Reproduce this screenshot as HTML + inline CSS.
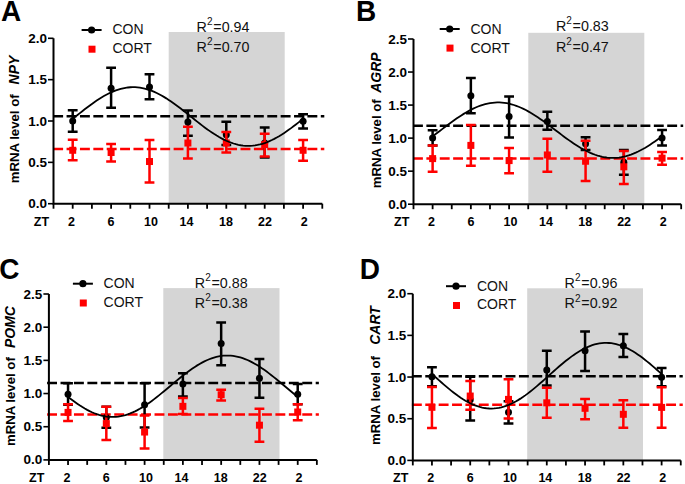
<!DOCTYPE html>
<html><head><meta charset="utf-8"><style>
html,body{margin:0;padding:0;background:#fff;}
svg{display:block;}
text{font-family:"Liberation Sans", sans-serif;fill:#000;}
.tk{font-size:12.5px;font-weight:bold;}
.yl{font-size:13.2px;font-weight:bold;}
.yg{font-size:14px;font-weight:bold;font-style:italic;}
.let{font-size:28px;font-weight:bold;}
.lg{font-size:14px;fill:#111;}
.r2{font-size:14.3px;fill:#111;}
.sup{font-size:10px;}
</style></head><body>
<svg width="685" height="484" viewBox="0 0 685 484">
<rect width="685" height="484" fill="#fff"/>
<rect x="168.7" y="32" width="116" height="171.7" fill="#d5d5d5"/>
<line x1="53.2" y1="116.37" x2="324.3" y2="116.37" stroke="#000" stroke-width="2.5" stroke-dasharray="9.9 3.48"/>
<line x1="53.2" y1="149.12" x2="324.3" y2="149.12" stroke="#ff0000" stroke-width="2.5" stroke-dasharray="9.9 3.48"/>
<path d="M53.5 38.3V203.7H322.3" fill="none" stroke="#000" stroke-width="2"/>
<line x1="48" y1="203.7" x2="53.5" y2="203.7" stroke="#000" stroke-width="1.6"/>
<text transform="translate(46.9 208.2) scale(1.08 1)" class="tk" text-anchor="end">0.0</text>
<line x1="48" y1="162.35" x2="53.5" y2="162.35" stroke="#000" stroke-width="1.6"/>
<text transform="translate(46.9 166.85) scale(1.08 1)" class="tk" text-anchor="end">0.5</text>
<line x1="48" y1="121" x2="53.5" y2="121" stroke="#000" stroke-width="1.6"/>
<text transform="translate(46.9 125.5) scale(1.08 1)" class="tk" text-anchor="end">1.0</text>
<line x1="48" y1="79.65" x2="53.5" y2="79.65" stroke="#000" stroke-width="1.6"/>
<text transform="translate(46.9 84.15) scale(1.08 1)" class="tk" text-anchor="end">1.5</text>
<line x1="48" y1="38.3" x2="53.5" y2="38.3" stroke="#000" stroke-width="1.6"/>
<text transform="translate(46.9 42.8) scale(1.08 1)" class="tk" text-anchor="end">2.0</text>
<line x1="53.5" y1="203.7" x2="53.5" y2="208.7" stroke="#000" stroke-width="1.8"/>
<line x1="72.7" y1="203.7" x2="72.7" y2="208.7" stroke="#000" stroke-width="1.8"/>
<line x1="91.9" y1="203.7" x2="91.9" y2="208.7" stroke="#000" stroke-width="1.8"/>
<line x1="111.1" y1="203.7" x2="111.1" y2="208.7" stroke="#000" stroke-width="1.8"/>
<line x1="130.3" y1="203.7" x2="130.3" y2="208.7" stroke="#000" stroke-width="1.8"/>
<line x1="149.5" y1="203.7" x2="149.5" y2="208.7" stroke="#000" stroke-width="1.8"/>
<line x1="168.7" y1="203.7" x2="168.7" y2="208.7" stroke="#000" stroke-width="1.8"/>
<line x1="187.9" y1="203.7" x2="187.9" y2="208.7" stroke="#000" stroke-width="1.8"/>
<line x1="207.1" y1="203.7" x2="207.1" y2="208.7" stroke="#000" stroke-width="1.8"/>
<line x1="226.3" y1="203.7" x2="226.3" y2="208.7" stroke="#000" stroke-width="1.8"/>
<line x1="245.5" y1="203.7" x2="245.5" y2="208.7" stroke="#000" stroke-width="1.8"/>
<line x1="264.7" y1="203.7" x2="264.7" y2="208.7" stroke="#000" stroke-width="1.8"/>
<line x1="283.9" y1="203.7" x2="283.9" y2="208.7" stroke="#000" stroke-width="1.8"/>
<line x1="303.1" y1="203.7" x2="303.1" y2="208.7" stroke="#000" stroke-width="1.8"/>
<line x1="322.3" y1="203.7" x2="322.3" y2="208.7" stroke="#000" stroke-width="1.8"/>
<text x="71.6" y="226" class="tk" text-anchor="middle">2</text>
<text x="111.1" y="226" class="tk" text-anchor="middle">6</text>
<text x="150.9" y="226" class="tk" text-anchor="middle">10</text>
<text x="186.5" y="226" class="tk" text-anchor="middle">14</text>
<text x="225.9" y="226" class="tk" text-anchor="middle">18</text>
<text x="265" y="226" class="tk" text-anchor="middle">22</text>
<text x="304.3" y="226" class="tk" text-anchor="middle">2</text>
<text x="33.8" y="226" class="tk">ZT</text>
<text transform="translate(19.4 183.3) rotate(-90)" class="yl">mRNA level of</text>
<text transform="translate(19.4 55.6) rotate(-90)" class="yg" text-anchor="end">NPY</text>
<text transform="translate(1 20.6) scale(1 1.06)" class="let">A</text>
<line x1="81.6" y1="30" x2="101.6" y2="30" stroke="#000" stroke-width="2"/>
<circle cx="91.6" cy="30" r="3.6" fill="#000"/>
<rect x="88.5" y="45.7" width="7" height="7" fill="#ff0000"/>
<text x="112.4" y="34.2" class="lg">CON</text>
<text x="112.4" y="53.4" class="lg">CORT</text>
<text x="196.6" y="31.6" class="r2">R<tspan class="sup" dy="-6.9">2</tspan><tspan dy="6.9" dx="0.8">=0.94</tspan></text>
<text x="196.6" y="51.9" class="r2">R<tspan class="sup" dy="-6.9">2</tspan><tspan dy="6.9" dx="0.8">=0.70</tspan></text>
<path d="M72.7 110.25V131.75M67.8 110.25H77.6M67.8 131.75H77.6" stroke="#000" stroke-width="2.5" fill="none"/>
<circle cx="72.7" cy="121" r="3.5" fill="#000"/>
<path d="M111.1 67.66V107.77M106.2 67.66H116M106.2 107.77H116" stroke="#000" stroke-width="2.5" fill="none"/>
<circle cx="111.1" cy="88.33" r="3.5" fill="#000"/>
<path d="M149.5 74.27V99.25M144.6 74.27H154.4M144.6 99.25H154.4" stroke="#000" stroke-width="2.5" fill="none"/>
<circle cx="149.5" cy="87.09" r="3.5" fill="#000"/>
<path d="M187.9 110.58V135.72M183 110.58H192.8M183 135.72H192.8" stroke="#000" stroke-width="2.5" fill="none"/>
<circle cx="187.9" cy="121.99" r="3.5" fill="#000"/>
<path d="M226.3 121.83V144.98M221.4 121.83H231.2M221.4 144.98H231.2" stroke="#000" stroke-width="2.5" fill="none"/>
<circle cx="226.3" cy="134.65" r="3.5" fill="#000"/>
<path d="M264.7 127.62V157.39M259.8 127.62H269.6M259.8 157.39H269.6" stroke="#000" stroke-width="2.5" fill="none"/>
<circle cx="264.7" cy="142.92" r="3.5" fill="#000"/>
<path d="M303.1 114.22V128.44M298.2 114.22H308M298.2 128.44H308" stroke="#000" stroke-width="2.5" fill="none"/>
<circle cx="303.1" cy="121.25" r="3.5" fill="#000"/>
<path d="M72.7 139.69V160.2M67.8 139.69H77.6M67.8 160.2H77.6" stroke="#ff0000" stroke-width="2.5" fill="none"/>
<rect x="69.2" y="146.78" width="7" height="7" fill="#ff0000"/>
<path d="M111.1 143.99V161.44M106.2 143.99H116M106.2 161.44H116" stroke="#ff0000" stroke-width="2.5" fill="none"/>
<rect x="107.6" y="149.01" width="7" height="7" fill="#ff0000"/>
<path d="M149.5 140.02V182.53M144.6 140.02H154.4M144.6 182.53H154.4" stroke="#ff0000" stroke-width="2.5" fill="none"/>
<rect x="146" y="158.02" width="7" height="7" fill="#ff0000"/>
<path d="M187.9 126.71V158.46M183 126.71H192.8M183 158.46H192.8" stroke="#ff0000" stroke-width="2.5" fill="none"/>
<rect x="184.4" y="139.5" width="7" height="7" fill="#ff0000"/>
<path d="M226.3 131.92V152.59M221.4 131.92H231.2M221.4 152.59H231.2" stroke="#ff0000" stroke-width="2.5" fill="none"/>
<rect x="222.8" y="139.5" width="7" height="7" fill="#ff0000"/>
<path d="M264.7 133.82V156.48M259.8 133.82H269.6M259.8 156.48H269.6" stroke="#ff0000" stroke-width="2.5" fill="none"/>
<rect x="261.2" y="141.07" width="7" height="7" fill="#ff0000"/>
<path d="M303.1 140.02V160.7M298.2 140.02H308M298.2 160.7H308" stroke="#ff0000" stroke-width="2.5" fill="none"/>
<rect x="299.6" y="146.78" width="7" height="7" fill="#ff0000"/>
<polyline points="72.7,118.84 75.1,116.92 77.5,115 79.9,113.08 82.3,111.18 84.7,109.31 87.1,107.46 89.5,105.66 91.9,103.9 94.3,102.19 96.7,100.54 99.1,98.97 101.5,97.47 103.9,96.05 106.3,94.72 108.7,93.48 111.1,92.34 113.5,91.3 115.9,90.38 118.3,89.56 120.7,88.86 123.1,88.28 125.5,87.82 127.9,87.48 130.3,87.27 132.7,87.18 135.1,87.22 137.5,87.38 139.9,87.67 142.3,88.08 144.7,88.61 147.1,89.27 149.5,90.04 151.9,90.92 154.3,91.91 156.7,93.01 159.1,94.21 161.5,95.5 163.9,96.89 166.3,98.36 168.7,99.91 171.1,101.52 173.5,103.21 175.9,104.95 178.3,106.73 180.7,108.57 183.1,110.43 185.5,112.32 187.9,114.23 190.3,116.15 192.7,118.07 195.1,119.98 197.5,121.88 199.9,123.76 202.3,125.61 204.7,127.41 207.1,129.17 209.5,130.88 211.9,132.52 214.3,134.1 216.7,135.6 219.1,137.02 221.5,138.35 223.9,139.59 226.3,140.73 228.7,141.77 231.1,142.69 233.5,143.51 235.9,144.21 238.3,144.79 240.7,145.25 243.1,145.59 245.5,145.8 247.9,145.89 250.3,145.85 252.7,145.69 255.1,145.4 257.5,144.99 259.9,144.46 262.3,143.8 264.7,143.03 267.1,142.15 269.5,141.16 271.9,140.06 274.3,138.86 276.7,137.56 279.1,136.18 281.5,134.71 283.9,133.16 286.3,131.54 288.7,129.86 291.1,128.12 293.5,126.33 295.9,124.5 298.3,122.64 300.7,120.75 303.1,118.84" fill="none" stroke="#000" stroke-width="1.8"/>
<rect x="528.3" y="32.8" width="116" height="171.4" fill="#d5d5d5"/>
<line x1="413" y1="125.7" x2="683.18" y2="125.7" stroke="#000" stroke-width="2.5" stroke-dasharray="9.9 3.48"/>
<line x1="413" y1="158.41" x2="683.18" y2="158.41" stroke="#ff0000" stroke-width="2.5" stroke-dasharray="9.9 3.48"/>
<path d="M413.5 39V204.2H681.18" fill="none" stroke="#000" stroke-width="2"/>
<line x1="408" y1="204.2" x2="413.5" y2="204.2" stroke="#000" stroke-width="1.6"/>
<text transform="translate(406.9 208.7) scale(1.08 1)" class="tk" text-anchor="end">0.0</text>
<line x1="408" y1="171.16" x2="413.5" y2="171.16" stroke="#000" stroke-width="1.6"/>
<text transform="translate(406.9 175.66) scale(1.08 1)" class="tk" text-anchor="end">0.5</text>
<line x1="408" y1="138.12" x2="413.5" y2="138.12" stroke="#000" stroke-width="1.6"/>
<text transform="translate(406.9 142.62) scale(1.08 1)" class="tk" text-anchor="end">1.0</text>
<line x1="408" y1="105.08" x2="413.5" y2="105.08" stroke="#000" stroke-width="1.6"/>
<text transform="translate(406.9 109.58) scale(1.08 1)" class="tk" text-anchor="end">1.5</text>
<line x1="408" y1="72.04" x2="413.5" y2="72.04" stroke="#000" stroke-width="1.6"/>
<text transform="translate(406.9 76.54) scale(1.08 1)" class="tk" text-anchor="end">2.0</text>
<line x1="408" y1="39" x2="413.5" y2="39" stroke="#000" stroke-width="1.6"/>
<text transform="translate(406.9 43.5) scale(1.08 1)" class="tk" text-anchor="end">2.5</text>
<line x1="413.5" y1="204.2" x2="413.5" y2="209.2" stroke="#000" stroke-width="1.8"/>
<line x1="432.62" y1="204.2" x2="432.62" y2="209.2" stroke="#000" stroke-width="1.8"/>
<line x1="451.74" y1="204.2" x2="451.74" y2="209.2" stroke="#000" stroke-width="1.8"/>
<line x1="470.86" y1="204.2" x2="470.86" y2="209.2" stroke="#000" stroke-width="1.8"/>
<line x1="489.98" y1="204.2" x2="489.98" y2="209.2" stroke="#000" stroke-width="1.8"/>
<line x1="509.1" y1="204.2" x2="509.1" y2="209.2" stroke="#000" stroke-width="1.8"/>
<line x1="528.22" y1="204.2" x2="528.22" y2="209.2" stroke="#000" stroke-width="1.8"/>
<line x1="547.34" y1="204.2" x2="547.34" y2="209.2" stroke="#000" stroke-width="1.8"/>
<line x1="566.46" y1="204.2" x2="566.46" y2="209.2" stroke="#000" stroke-width="1.8"/>
<line x1="585.58" y1="204.2" x2="585.58" y2="209.2" stroke="#000" stroke-width="1.8"/>
<line x1="604.7" y1="204.2" x2="604.7" y2="209.2" stroke="#000" stroke-width="1.8"/>
<line x1="623.82" y1="204.2" x2="623.82" y2="209.2" stroke="#000" stroke-width="1.8"/>
<line x1="642.94" y1="204.2" x2="642.94" y2="209.2" stroke="#000" stroke-width="1.8"/>
<line x1="662.06" y1="204.2" x2="662.06" y2="209.2" stroke="#000" stroke-width="1.8"/>
<line x1="681.18" y1="204.2" x2="681.18" y2="209.2" stroke="#000" stroke-width="1.8"/>
<text x="431.52" y="226" class="tk" text-anchor="middle">2</text>
<text x="470.86" y="226" class="tk" text-anchor="middle">6</text>
<text x="510.5" y="226" class="tk" text-anchor="middle">10</text>
<text x="545.94" y="226" class="tk" text-anchor="middle">14</text>
<text x="585.18" y="226" class="tk" text-anchor="middle">18</text>
<text x="624.12" y="226" class="tk" text-anchor="middle">22</text>
<text x="663.26" y="226" class="tk" text-anchor="middle">2</text>
<text x="394" y="226" class="tk">ZT</text>
<text transform="translate(380.5 188.2) rotate(-90)" class="yl">mRNA level of</text>
<text transform="translate(380.5 52.4) rotate(-90)" class="yg" text-anchor="end">AGRP</text>
<text transform="translate(356 20.9) scale(1 1.06)" class="let">B</text>
<line x1="439.7" y1="29" x2="459.7" y2="29" stroke="#000" stroke-width="2"/>
<circle cx="449.7" cy="29" r="3.6" fill="#000"/>
<rect x="446.5" y="44.6" width="7" height="7" fill="#ff0000"/>
<text x="470.5" y="33.6" class="lg">CON</text>
<text x="470.5" y="52.6" class="lg">CORT</text>
<text x="555.9" y="31.2" class="r2">R<tspan class="sup" dy="-6.9">2</tspan><tspan dy="6.9" dx="0.8">=0.83</tspan></text>
<text x="555.9" y="51.6" class="r2">R<tspan class="sup" dy="-6.9">2</tspan><tspan dy="6.9" dx="0.8">=0.47</tspan></text>
<path d="M432.62 130.19V145.39M427.72 130.19H437.52M427.72 145.39H437.52" stroke="#000" stroke-width="2.5" fill="none"/>
<circle cx="432.62" cy="138.12" r="3.5" fill="#000"/>
<path d="M470.86 77.99V113.34M465.96 77.99H475.76M465.96 113.34H475.76" stroke="#000" stroke-width="2.5" fill="none"/>
<circle cx="470.86" cy="95.83" r="3.5" fill="#000"/>
<path d="M509.1 96.49V137.46M504.2 96.49H514M504.2 137.46H514" stroke="#000" stroke-width="2.5" fill="none"/>
<circle cx="509.1" cy="116.51" r="3.5" fill="#000"/>
<path d="M547.34 111.69V129.66M542.44 111.69H552.24M542.44 129.66H552.24" stroke="#000" stroke-width="2.5" fill="none"/>
<circle cx="547.34" cy="121.6" r="3.5" fill="#000"/>
<path d="M585.58 137.13V150.01M580.68 137.13H590.48M580.68 150.01H590.48" stroke="#000" stroke-width="2.5" fill="none"/>
<circle cx="585.58" cy="143.74" r="3.5" fill="#000"/>
<path d="M623.82 150.01V174.73M618.92 150.01H628.72M618.92 174.73H628.72" stroke="#000" stroke-width="2.5" fill="none"/>
<circle cx="623.82" cy="162.31" r="3.5" fill="#000"/>
<path d="M662.06 129.93V145.39M657.16 129.93H666.96M657.16 145.39H666.96" stroke="#000" stroke-width="2.5" fill="none"/>
<circle cx="662.06" cy="137.92" r="3.5" fill="#000"/>
<path d="M432.62 145.39V171.82M427.72 145.39H437.52M427.72 171.82H437.52" stroke="#ff0000" stroke-width="2.5" fill="none"/>
<rect x="429.12" y="155.1" width="7" height="7" fill="#ff0000"/>
<path d="M470.86 124.9V165.87M465.96 124.9H475.76M465.96 165.87H475.76" stroke="#ff0000" stroke-width="2.5" fill="none"/>
<rect x="467.36" y="141.89" width="7" height="7" fill="#ff0000"/>
<path d="M509.1 148.03V173.14M504.2 148.03H514M504.2 173.14H514" stroke="#ff0000" stroke-width="2.5" fill="none"/>
<rect x="505.6" y="157.09" width="7" height="7" fill="#ff0000"/>
<path d="M547.34 138.78V171.82M542.44 138.78H552.24M542.44 171.82H552.24" stroke="#ff0000" stroke-width="2.5" fill="none"/>
<rect x="543.84" y="151.47" width="7" height="7" fill="#ff0000"/>
<path d="M585.58 140.76V181.07M580.68 140.76H590.48M580.68 181.07H590.48" stroke="#ff0000" stroke-width="2.5" fill="none"/>
<rect x="582.08" y="157.75" width="7" height="7" fill="#ff0000"/>
<path d="M623.82 150.94V183.98M618.92 150.94H628.72M618.92 183.98H628.72" stroke="#ff0000" stroke-width="2.5" fill="none"/>
<rect x="620.32" y="163.3" width="7" height="7" fill="#ff0000"/>
<path d="M662.06 152V164.68M657.16 152H666.96M657.16 164.68H666.96" stroke="#ff0000" stroke-width="2.5" fill="none"/>
<rect x="658.56" y="154.64" width="7" height="7" fill="#ff0000"/>
<polyline points="432.62,136.32 435.01,134.53 437.4,132.73 439.79,130.92 442.18,129.1 444.57,127.29 446.96,125.49 449.35,123.71 451.74,121.96 454.13,120.24 456.52,118.57 458.91,116.95 461.3,115.38 463.69,113.88 466.08,112.44 468.47,111.09 470.86,109.81 473.25,108.62 475.64,107.53 478.03,106.53 480.42,105.63 482.81,104.84 485.2,104.15 487.59,103.58 489.98,103.12 492.37,102.78 494.76,102.55 497.15,102.45 499.54,102.46 501.93,102.59 504.32,102.84 506.71,103.2 509.1,103.69 511.49,104.28 513.88,104.99 516.27,105.8 518.66,106.72 521.05,107.74 523.44,108.85 525.83,110.06 528.22,111.35 530.61,112.72 533,114.17 535.39,115.69 537.78,117.27 540.17,118.9 542.56,120.58 544.95,122.31 547.34,124.07 549.73,125.85 552.12,127.65 554.51,129.46 556.9,131.28 559.29,133.09 561.68,134.89 564.07,136.67 566.46,138.42 568.85,140.14 571.24,141.81 573.63,143.43 576.02,145 578.41,146.5 580.8,147.94 583.19,149.29 585.58,150.57 587.97,151.76 590.36,152.86 592.75,153.85 595.14,154.75 597.53,155.54 599.92,156.23 602.31,156.8 604.7,157.26 607.09,157.6 609.48,157.83 611.87,157.93 614.26,157.92 616.65,157.79 619.04,157.54 621.43,157.18 623.82,156.7 626.21,156.1 628.6,155.39 630.99,154.58 633.38,153.66 635.77,152.64 638.16,151.53 640.55,150.32 642.94,149.03 645.33,147.66 647.72,146.21 650.11,144.69 652.5,143.11 654.89,141.48 657.28,139.8 659.67,138.07 662.06,136.32" fill="none" stroke="#000" stroke-width="1.8"/>
<rect x="163.3" y="288.1" width="116.2" height="171.8" fill="#d5d5d5"/>
<line x1="47.1" y1="383.12" x2="318.86" y2="383.12" stroke="#000" stroke-width="2.5" stroke-dasharray="9.9 3.53"/>
<line x1="47.1" y1="414.58" x2="318.86" y2="414.58" stroke="#ff0000" stroke-width="2.5" stroke-dasharray="9.9 3.53"/>
<path d="M48.9 294V459.9H316.86" fill="none" stroke="#000" stroke-width="2"/>
<line x1="43.4" y1="459.9" x2="48.9" y2="459.9" stroke="#000" stroke-width="1.6"/>
<text transform="translate(42.3 464.4) scale(1.08 1)" class="tk" text-anchor="end">0.0</text>
<line x1="43.4" y1="426.72" x2="48.9" y2="426.72" stroke="#000" stroke-width="1.6"/>
<text transform="translate(42.3 431.22) scale(1.08 1)" class="tk" text-anchor="end">0.5</text>
<line x1="43.4" y1="393.54" x2="48.9" y2="393.54" stroke="#000" stroke-width="1.6"/>
<text transform="translate(42.3 398.04) scale(1.08 1)" class="tk" text-anchor="end">1.0</text>
<line x1="43.4" y1="360.36" x2="48.9" y2="360.36" stroke="#000" stroke-width="1.6"/>
<text transform="translate(42.3 364.86) scale(1.08 1)" class="tk" text-anchor="end">1.5</text>
<line x1="43.4" y1="327.18" x2="48.9" y2="327.18" stroke="#000" stroke-width="1.6"/>
<text transform="translate(42.3 331.68) scale(1.08 1)" class="tk" text-anchor="end">2.0</text>
<line x1="43.4" y1="294" x2="48.9" y2="294" stroke="#000" stroke-width="1.6"/>
<text transform="translate(42.3 298.5) scale(1.08 1)" class="tk" text-anchor="end">2.5</text>
<line x1="48.9" y1="459.9" x2="48.9" y2="464.9" stroke="#000" stroke-width="1.8"/>
<line x1="68.04" y1="459.9" x2="68.04" y2="464.9" stroke="#000" stroke-width="1.8"/>
<line x1="87.18" y1="459.9" x2="87.18" y2="464.9" stroke="#000" stroke-width="1.8"/>
<line x1="106.32" y1="459.9" x2="106.32" y2="464.9" stroke="#000" stroke-width="1.8"/>
<line x1="125.46" y1="459.9" x2="125.46" y2="464.9" stroke="#000" stroke-width="1.8"/>
<line x1="144.6" y1="459.9" x2="144.6" y2="464.9" stroke="#000" stroke-width="1.8"/>
<line x1="163.74" y1="459.9" x2="163.74" y2="464.9" stroke="#000" stroke-width="1.8"/>
<line x1="182.88" y1="459.9" x2="182.88" y2="464.9" stroke="#000" stroke-width="1.8"/>
<line x1="202.02" y1="459.9" x2="202.02" y2="464.9" stroke="#000" stroke-width="1.8"/>
<line x1="221.16" y1="459.9" x2="221.16" y2="464.9" stroke="#000" stroke-width="1.8"/>
<line x1="240.3" y1="459.9" x2="240.3" y2="464.9" stroke="#000" stroke-width="1.8"/>
<line x1="259.44" y1="459.9" x2="259.44" y2="464.9" stroke="#000" stroke-width="1.8"/>
<line x1="278.58" y1="459.9" x2="278.58" y2="464.9" stroke="#000" stroke-width="1.8"/>
<line x1="297.72" y1="459.9" x2="297.72" y2="464.9" stroke="#000" stroke-width="1.8"/>
<line x1="316.86" y1="459.9" x2="316.86" y2="464.9" stroke="#000" stroke-width="1.8"/>
<text x="66.94" y="482" class="tk" text-anchor="middle">2</text>
<text x="106.32" y="482" class="tk" text-anchor="middle">6</text>
<text x="146" y="482" class="tk" text-anchor="middle">10</text>
<text x="181.48" y="482" class="tk" text-anchor="middle">14</text>
<text x="220.76" y="482" class="tk" text-anchor="middle">18</text>
<text x="259.74" y="482" class="tk" text-anchor="middle">22</text>
<text x="298.92" y="482" class="tk" text-anchor="middle">2</text>
<text x="29" y="482" class="tk">ZT</text>
<text transform="translate(15.3 446.1) rotate(-90)" class="yl">mRNA level of</text>
<text transform="translate(15.3 306.1) rotate(-90)" class="yg" text-anchor="end">POMC</text>
<text transform="translate(-0.8 279.1) scale(1 1.06)" class="let">C</text>
<line x1="72.9" y1="283.7" x2="92.9" y2="283.7" stroke="#000" stroke-width="2"/>
<circle cx="82.9" cy="283.7" r="3.6" fill="#000"/>
<rect x="79.8" y="299.5" width="7" height="7" fill="#ff0000"/>
<text x="103.6" y="288.4" class="lg">CON</text>
<text x="103.6" y="307" class="lg">CORT</text>
<text x="194.8" y="287.6" class="r2">R<tspan class="sup" dy="-6.9">2</tspan><tspan dy="6.9" dx="0.8">=0.88</tspan></text>
<text x="194.8" y="307.6" class="r2">R<tspan class="sup" dy="-6.9">2</tspan><tspan dy="6.9" dx="0.8">=0.38</tspan></text>
<path d="M68.04 383.32V404.82M63.14 383.32H72.94M63.14 404.82H72.94" stroke="#000" stroke-width="2.5" fill="none"/>
<circle cx="68.04" cy="394.2" r="3.5" fill="#000"/>
<path d="M106.32 406.81V427.85M101.42 406.81H111.22M101.42 427.85H111.22" stroke="#000" stroke-width="2.5" fill="none"/>
<circle cx="106.32" cy="417.43" r="3.5" fill="#000"/>
<path d="M144.6 383.32V427.38M139.7 383.32H149.5M139.7 427.38H149.5" stroke="#000" stroke-width="2.5" fill="none"/>
<circle cx="144.6" cy="404.82" r="3.5" fill="#000"/>
<path d="M182.88 373.17V396.46M177.98 373.17H187.78M177.98 396.46H187.78" stroke="#000" stroke-width="2.5" fill="none"/>
<circle cx="182.88" cy="384.12" r="3.5" fill="#000"/>
<path d="M221.16 322.53V365.27M216.26 322.53H226.06M216.26 365.27H226.06" stroke="#000" stroke-width="2.5" fill="none"/>
<circle cx="221.16" cy="343.44" r="3.5" fill="#000"/>
<path d="M259.44 359.03V397.72M254.54 359.03H264.34M254.54 397.72H264.34" stroke="#000" stroke-width="2.5" fill="none"/>
<circle cx="259.44" cy="378.21" r="3.5" fill="#000"/>
<path d="M297.72 384.12V404.16M292.82 384.12H302.62M292.82 404.16H302.62" stroke="#000" stroke-width="2.5" fill="none"/>
<circle cx="297.72" cy="394.2" r="3.5" fill="#000"/>
<path d="M68.04 404.16V421.08M63.14 404.16H72.94M63.14 421.08H72.94" stroke="#ff0000" stroke-width="2.5" fill="none"/>
<rect x="64.54" y="408.89" width="7" height="7" fill="#ff0000"/>
<path d="M106.32 406.81V439.99M101.42 406.81H111.22M101.42 439.99H111.22" stroke="#ff0000" stroke-width="2.5" fill="none"/>
<rect x="102.82" y="420.1" width="7" height="7" fill="#ff0000"/>
<path d="M144.6 415.44V448.62M139.7 415.44H149.5M139.7 448.62H149.5" stroke="#ff0000" stroke-width="2.5" fill="none"/>
<rect x="141.1" y="428.53" width="7" height="7" fill="#ff0000"/>
<path d="M182.88 398.05V414.11M177.98 398.05H187.78M177.98 414.11H187.78" stroke="#ff0000" stroke-width="2.5" fill="none"/>
<rect x="179.38" y="402.85" width="7" height="7" fill="#ff0000"/>
<path d="M221.16 389.82V400.38M216.26 389.82H226.06M216.26 400.38H226.06" stroke="#ff0000" stroke-width="2.5" fill="none"/>
<rect x="217.66" y="391.23" width="7" height="7" fill="#ff0000"/>
<path d="M259.44 408.67V441.85M254.54 408.67H264.34M254.54 441.85H264.34" stroke="#ff0000" stroke-width="2.5" fill="none"/>
<rect x="255.94" y="421.69" width="7" height="7" fill="#ff0000"/>
<path d="M297.72 404.16V420.28M292.82 404.16H302.62M292.82 420.28H302.62" stroke="#ff0000" stroke-width="2.5" fill="none"/>
<rect x="294.22" y="408.49" width="7" height="7" fill="#ff0000"/>
<polyline points="68.04,396.87 70.43,398.74 72.83,400.55 75.22,402.29 77.61,403.97 80,405.58 82.4,407.1 84.79,408.53 87.18,409.86 89.57,411.1 91.97,412.23 94.36,413.24 96.75,414.14 99.14,414.92 101.53,415.58 103.93,416.12 106.32,416.52 108.71,416.8 111.1,416.94 113.5,416.95 115.89,416.84 118.28,416.59 120.68,416.21 123.07,415.7 125.46,415.07 127.85,414.31 130.25,413.43 132.64,412.44 135.03,411.33 137.42,410.12 139.81,408.8 142.21,407.39 144.6,405.89 146.99,404.3 149.38,402.64 151.78,400.9 154.17,399.1 156.56,397.25 158.96,395.35 161.35,393.41 163.74,391.44 166.13,389.45 168.53,387.45 170.92,385.44 173.31,383.43 175.7,381.43 178.09,379.46 180.49,377.51 182.88,375.61 185.27,373.74 187.67,371.93 190.06,370.19 192.45,368.51 194.84,366.9 197.24,365.38 199.63,363.95 202.02,362.62 204.41,361.38 206.81,360.26 209.2,359.24 211.59,358.34 213.98,357.56 216.38,356.9 218.77,356.36 221.16,355.96 223.55,355.68 225.95,355.54 228.34,355.53 230.73,355.64 233.12,355.89 235.52,356.27 237.91,356.78 240.3,357.41 242.69,358.17 245.09,359.05 247.48,360.04 249.87,361.15 252.26,362.36 254.66,363.68 257.05,365.09 259.44,366.59 261.83,368.18 264.23,369.85 266.62,371.58 269.01,373.38 271.4,375.23 273.8,377.13 276.19,379.07 278.58,381.04 280.97,383.03 283.37,385.03 285.76,387.04 288.15,389.05 290.54,391.05 292.94,393.02 295.33,394.97 297.72,396.87" fill="none" stroke="#000" stroke-width="1.8"/>
<rect x="527.2" y="288.3" width="115.8" height="172.1" fill="#d5d5d5"/>
<line x1="411.9" y1="376.22" x2="682.76" y2="376.22" stroke="#000" stroke-width="2.5" stroke-dasharray="9.9 3.48"/>
<line x1="411.9" y1="404.81" x2="682.76" y2="404.81" stroke="#ff0000" stroke-width="2.5" stroke-dasharray="9.9 3.48"/>
<path d="M412.8 293.7V460.4H680.76" fill="none" stroke="#000" stroke-width="2"/>
<line x1="407.3" y1="460.4" x2="412.8" y2="460.4" stroke="#000" stroke-width="1.6"/>
<text transform="translate(406.2 464.9) scale(1.08 1)" class="tk" text-anchor="end">0.0</text>
<line x1="407.3" y1="418.72" x2="412.8" y2="418.72" stroke="#000" stroke-width="1.6"/>
<text transform="translate(406.2 423.22) scale(1.08 1)" class="tk" text-anchor="end">0.5</text>
<line x1="407.3" y1="377.05" x2="412.8" y2="377.05" stroke="#000" stroke-width="1.6"/>
<text transform="translate(406.2 381.55) scale(1.08 1)" class="tk" text-anchor="end">1.0</text>
<line x1="407.3" y1="335.38" x2="412.8" y2="335.38" stroke="#000" stroke-width="1.6"/>
<text transform="translate(406.2 339.88) scale(1.08 1)" class="tk" text-anchor="end">1.5</text>
<line x1="407.3" y1="293.7" x2="412.8" y2="293.7" stroke="#000" stroke-width="1.6"/>
<text transform="translate(406.2 298.2) scale(1.08 1)" class="tk" text-anchor="end">2.0</text>
<line x1="412.8" y1="460.4" x2="412.8" y2="465.4" stroke="#000" stroke-width="1.8"/>
<line x1="431.94" y1="460.4" x2="431.94" y2="465.4" stroke="#000" stroke-width="1.8"/>
<line x1="451.08" y1="460.4" x2="451.08" y2="465.4" stroke="#000" stroke-width="1.8"/>
<line x1="470.22" y1="460.4" x2="470.22" y2="465.4" stroke="#000" stroke-width="1.8"/>
<line x1="489.36" y1="460.4" x2="489.36" y2="465.4" stroke="#000" stroke-width="1.8"/>
<line x1="508.5" y1="460.4" x2="508.5" y2="465.4" stroke="#000" stroke-width="1.8"/>
<line x1="527.64" y1="460.4" x2="527.64" y2="465.4" stroke="#000" stroke-width="1.8"/>
<line x1="546.78" y1="460.4" x2="546.78" y2="465.4" stroke="#000" stroke-width="1.8"/>
<line x1="565.92" y1="460.4" x2="565.92" y2="465.4" stroke="#000" stroke-width="1.8"/>
<line x1="585.06" y1="460.4" x2="585.06" y2="465.4" stroke="#000" stroke-width="1.8"/>
<line x1="604.2" y1="460.4" x2="604.2" y2="465.4" stroke="#000" stroke-width="1.8"/>
<line x1="623.34" y1="460.4" x2="623.34" y2="465.4" stroke="#000" stroke-width="1.8"/>
<line x1="642.48" y1="460.4" x2="642.48" y2="465.4" stroke="#000" stroke-width="1.8"/>
<line x1="661.62" y1="460.4" x2="661.62" y2="465.4" stroke="#000" stroke-width="1.8"/>
<line x1="680.76" y1="460.4" x2="680.76" y2="465.4" stroke="#000" stroke-width="1.8"/>
<text x="430.84" y="482" class="tk" text-anchor="middle">2</text>
<text x="470.22" y="482" class="tk" text-anchor="middle">6</text>
<text x="509.9" y="482" class="tk" text-anchor="middle">10</text>
<text x="545.38" y="482" class="tk" text-anchor="middle">14</text>
<text x="584.66" y="482" class="tk" text-anchor="middle">18</text>
<text x="623.64" y="482" class="tk" text-anchor="middle">22</text>
<text x="662.82" y="482" class="tk" text-anchor="middle">2</text>
<text x="393" y="482" class="tk">ZT</text>
<text transform="translate(380 444.9) rotate(-90)" class="yl">mRNA level of</text>
<text transform="translate(380 306.2) rotate(-90)" class="yg" text-anchor="end">CART</text>
<text transform="translate(359.8 279.1) scale(1 1.06)" class="let">D</text>
<line x1="446" y1="286.2" x2="466" y2="286.2" stroke="#000" stroke-width="2"/>
<circle cx="456" cy="286.2" r="3.6" fill="#000"/>
<rect x="453" y="302" width="7" height="7" fill="#ff0000"/>
<text x="477" y="290.5" class="lg">CON</text>
<text x="477" y="309.1" class="lg">CORT</text>
<text x="564.6" y="287.6" class="r2">R<tspan class="sup" dy="-6.9">2</tspan><tspan dy="6.9" dx="0.8">=0.96</tspan></text>
<text x="564.6" y="308.4" class="r2">R<tspan class="sup" dy="-6.9">2</tspan><tspan dy="6.9" dx="0.8">=0.92</tspan></text>
<path d="M431.94 367.3V386.22M427.04 367.3H436.84M427.04 386.22H436.84" stroke="#000" stroke-width="2.5" fill="none"/>
<circle cx="431.94" cy="376.8" r="3.5" fill="#000"/>
<path d="M470.22 376.8V420.56M465.32 376.8H475.12M465.32 420.56H475.12" stroke="#000" stroke-width="2.5" fill="none"/>
<circle cx="470.22" cy="399.8" r="3.5" fill="#000"/>
<path d="M508.5 401.22V423.56M503.6 401.22H513.4M503.6 423.56H513.4" stroke="#000" stroke-width="2.5" fill="none"/>
<circle cx="508.5" cy="412.22" r="3.5" fill="#000"/>
<path d="M546.78 350.63V385.55M541.88 350.63H551.68M541.88 385.55H551.68" stroke="#000" stroke-width="2.5" fill="none"/>
<circle cx="546.78" cy="369.97" r="3.5" fill="#000"/>
<path d="M585.06 331.54V370.97M580.16 331.54H589.96M580.16 370.97H589.96" stroke="#000" stroke-width="2.5" fill="none"/>
<circle cx="585.06" cy="350.63" r="3.5" fill="#000"/>
<path d="M623.34 334.12V356.88M618.44 334.12H628.24M618.44 356.88H628.24" stroke="#000" stroke-width="2.5" fill="none"/>
<circle cx="623.34" cy="345.71" r="3.5" fill="#000"/>
<path d="M661.62 367.88V386.22M656.72 367.88H666.52M656.72 386.22H666.52" stroke="#000" stroke-width="2.5" fill="none"/>
<circle cx="661.62" cy="377.22" r="3.5" fill="#000"/>
<path d="M431.94 386.89V428.06M427.04 386.89H436.84M427.04 428.06H436.84" stroke="#ff0000" stroke-width="2.5" fill="none"/>
<rect x="428.44" y="403.81" width="7" height="7" fill="#ff0000"/>
<path d="M470.22 381.05V409.81M465.32 381.05H475.12M465.32 409.81H475.12" stroke="#ff0000" stroke-width="2.5" fill="none"/>
<rect x="466.72" y="392.55" width="7" height="7" fill="#ff0000"/>
<path d="M508.5 379.13V418.47M503.6 379.13H513.4M503.6 418.47H513.4" stroke="#ff0000" stroke-width="2.5" fill="none"/>
<rect x="505" y="395.89" width="7" height="7" fill="#ff0000"/>
<path d="M546.78 387.8V417.72M541.88 387.8H551.68M541.88 417.72H551.68" stroke="#ff0000" stroke-width="2.5" fill="none"/>
<rect x="543.28" y="399.31" width="7" height="7" fill="#ff0000"/>
<path d="M585.06 398.97V419.31M580.16 398.97H589.96M580.16 419.31H589.96" stroke="#ff0000" stroke-width="2.5" fill="none"/>
<rect x="581.56" y="404.81" width="7" height="7" fill="#ff0000"/>
<path d="M623.34 400.3V427.73M618.44 400.3H628.24M618.44 427.73H628.24" stroke="#ff0000" stroke-width="2.5" fill="none"/>
<rect x="619.84" y="410.81" width="7" height="7" fill="#ff0000"/>
<path d="M661.62 387.14V427.73M656.72 387.14H666.52M656.72 427.73H666.52" stroke="#ff0000" stroke-width="2.5" fill="none"/>
<rect x="658.12" y="403.89" width="7" height="7" fill="#ff0000"/>
<polyline points="431.94,374 434.33,376.15 436.73,378.29 439.12,380.43 441.51,382.54 443.9,384.63 446.3,386.68 448.69,388.68 451.08,390.63 453.47,392.51 455.87,394.32 458.26,396.05 460.65,397.69 463.04,399.24 465.44,400.69 467.83,402.03 470.22,403.26 472.61,404.37 475,405.36 477.4,406.22 479.79,406.95 482.18,407.55 484.58,408.01 486.97,408.33 489.36,408.51 491.75,408.55 494.14,408.46 496.54,408.22 498.93,407.84 501.32,407.32 503.72,406.67 506.11,405.89 508.5,404.98 510.89,403.94 513.28,402.78 515.68,401.51 518.07,400.12 520.46,398.63 522.86,397.04 525.25,395.37 527.64,393.6 530.03,391.76 532.42,389.85 534.82,387.89 537.21,385.86 539.6,383.8 542,381.7 544.39,379.58 546.78,377.44 549.17,375.29 551.57,373.14 553.96,371 556.35,368.89 558.74,366.8 561.13,364.75 563.53,362.75 565.92,360.81 568.31,358.93 570.71,357.12 573.1,355.39 575.49,353.74 577.88,352.19 580.27,350.74 582.67,349.4 585.06,348.17 587.45,347.06 589.85,346.08 592.24,345.21 594.63,344.48 597.02,343.89 599.41,343.43 601.81,343.1 604.2,342.92 606.59,342.88 608.99,342.98 611.38,343.22 613.77,343.59 616.16,344.11 618.56,344.76 620.95,345.54 623.34,346.46 625.73,347.49 628.12,348.65 630.52,349.93 632.91,351.31 635.3,352.8 637.7,354.39 640.09,356.07 642.48,357.83 644.87,359.67 647.26,361.58 649.66,363.55 652.05,365.57 654.44,367.63 656.84,369.73 659.23,371.86 661.62,374" fill="none" stroke="#000" stroke-width="1.8"/>
</svg>
</body></html>
